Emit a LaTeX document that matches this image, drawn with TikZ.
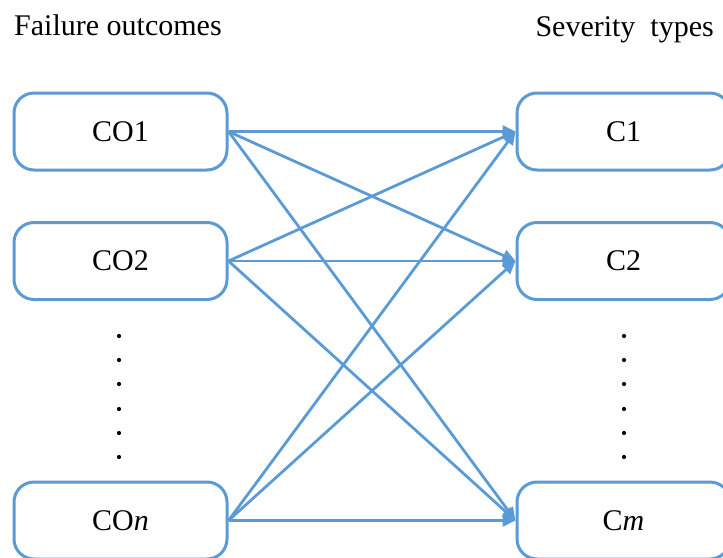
\documentclass[tikz,border=0pt]{standalone}
\usepackage{fontspec}
\setmainfont{Liberation Serif}
\usetikzlibrary{arrows.meta}
\definecolor{lineblue}{HTML}{5B9BD5}
\begin{document}
\begin{tikzpicture}[x=1pt,y=-1pt,
  box/.style={draw=lineblue, line width=3pt, rounded corners=20pt, fill=white,
    minimum width=213pt, minimum height=77pt, inner sep=0pt,
    font=\fontsize{30}{34}\selectfont},
  link/.style={draw=lineblue, line width=2.8pt, -{Triangle[length=13pt,width=12pt]}},
  title/.style={inner sep=0pt, font=\fontsize{30}{34}\selectfont},
  dotmark/.style={circle, fill=black, inner sep=0pt, minimum size=4.2pt}
]
\useasboundingbox (0,0) rectangle (723,557);
\clip (0,0) rectangle (723,557);

\node[title, anchor=base west] (t1) at (14,35) {Failure outcomes};
\node[title, anchor=base east] (t2) at (714,36) {Severity\ \ types};

\node[box] (co1) at (120.5,131.5) {CO1};
\node[box] (co2) at (120.5,261) {CO2};
\node[box] (con) at (120.5,520.5) {CO\textit{n}};

\node[box] (c1) at (623.5,131.5) {C1};
\node[box] (c2) at (623.5,261) {C2};
\node[box] (cm) at (623.5,520.5) {C\textit{m}};

\foreach \i/\yy in {1/336,2/360,3/384,4/409,5/433,6/457} {
  \node[dotmark] (ld\i) at (119,\yy) {};
  \node[dotmark] (rd\i) at (624,\yy) {};
}

\foreach \s in {co1,co2,con} {
  \foreach \t in {c1,c2,cm} {
    \draw[link] (\s.east) -- (\t.west);
  }
}
\end{tikzpicture}
\end{document}
